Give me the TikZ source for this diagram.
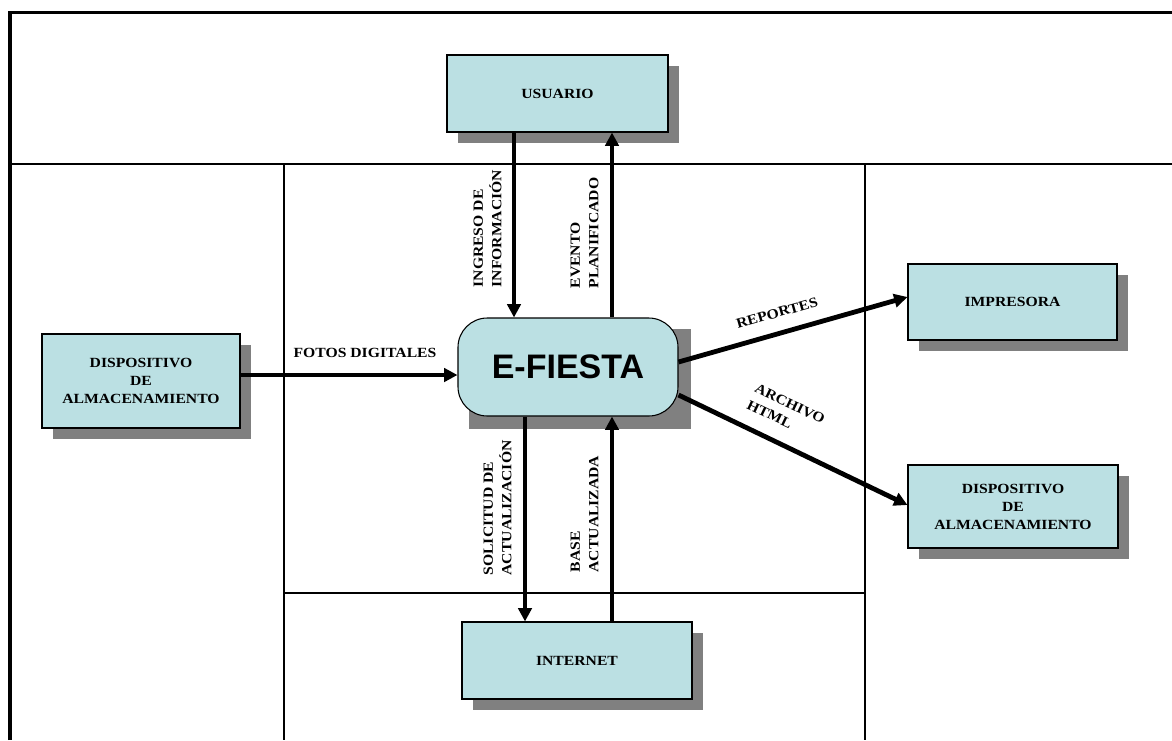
\documentclass[tikz,border=0pt]{standalone}
\usepackage{fontspec}
\usepackage{tikz}
\usetikzlibrary{arrows.meta}
\usetikzlibrary{calc}
\usetikzlibrary{backgrounds}
\usetikzlibrary{shadows}
\usetikzlibrary{positioning}
\newfontfamily\etiqfont[FakeStretch=1.12]{Liberation Serif}
\newfontfamily\titfont{Liberation Sans}
\definecolor{celeste}{RGB}{187,224,227}
\definecolor{sombra}{RGB}{128,128,128}
\tikzset{
  caja/.style={draw, line width=0.8pt, fill=celeste, align=center,
    font=\etiqfont\bfseries\fontsize{10.5}{13.5}\selectfont,
    drop shadow={shadow xshift=8.5pt, shadow yshift=-8.5pt, fill=sombra, opacity=1}}, % Cajas externas
  flujo/.style={line width=3.6pt, -{Triangle[length=10pt,width=10pt]}}, % Flechas de datos
  etiq/.style={font=\etiqfont\bfseries\fontsize{10.5}{13.8}\selectfont, align=left, inner sep=1pt}, % Textos de flujos
  marco/.style={line width=1.2pt}
}

\begin{document}
\begin{tikzpicture}[x=0.75pt, y=-0.75pt, >=latex]
\useasboundingbox (0,0) rectangle (1172,740);

%Marco
\draw[line width=2.3pt] (10,740) -- (10,12.5) -- (1172,12.5);
\draw[marco] (10,164) -- (1172,164);
\draw[marco] (284,164) -- (284,740);
\draw[marco] (865,164) -- (865,740);
\draw[marco] (284,593) -- (865,593);

%Entidades
\node[caja, minimum width=165.75pt, minimum height=57.75pt] (usuario) at (557.5,93.5) {USUARIO};
\node[caja, minimum width=148.5pt, minimum height=70.5pt] (dispIzq) at (141,381) {DISPOSITIVO\\DE\\ALMACENAMIENTO};
\node[caja, minimum width=156.75pt, minimum height=57pt] (impresora) at (1012.5,302) {IMPRESORA};
\node[caja, minimum width=157.5pt, minimum height=62.25pt] (dispDer) at (1013,506.5) {DISPOSITIVO\\DE\\ALMACENAMIENTO};
\node[caja, minimum width=172.5pt, minimum height=57.75pt] (internet) at (577,660.5) {INTERNET};

%Proceso
\node[draw, line width=0.8pt, fill=celeste, rounded corners=22pt,
  minimum width=165pt, minimum height=73.5pt,
  font=\titfont\bfseries\fontsize{25.5}{30}\selectfont] (efiesta) at (568,367) {E-FIESTA};
\begin{scope}[on background layer]
\fill[sombra] ($(efiesta.south west)+(12,12)$) rectangle ($(efiesta.north east)+(12,12)$);
\end{scope}

%Puntos de los flujos
\coordinate (pIngreso) at ($(efiesta.north)+(-54,0)$);
\coordinate (pEvento) at ($(efiesta.north)+(44,0)$);
\coordinate (pSolicitud) at ($(efiesta.south)+(-43,0)$);
\coordinate (pBase) at ($(efiesta.south)+(44,0)$);
\coordinate (pFotos) at ($(dispIzq.east)+(0,-6)$);
\coordinate (pReportes) at ($(efiesta.east)+(0,-5)$);
\coordinate (pArchivo) at ($(efiesta.east)+(0,28)$);

%Flujos
\draw[flujo] (usuario.south -| pIngreso) -- (pIngreso);
\draw[flujo] (pEvento) -- (usuario.south -| pEvento);
\draw[flujo] (pSolicitud) -- (internet.north -| pSolicitud);
\draw[flujo] (internet.north -| pBase) -- (pBase);
\draw[flujo] (pFotos) -- (efiesta.west |- pFotos);
\draw[flujo] (pReportes) -- ($(impresora.west)+(0,-5)$);
\draw[flujo] (pArchivo) -- ($(dispDer.west)+(0,-1.5)$);

%Etiquetas
\node[etiq, rotate=90, anchor=south west] (lIngreso) at (503,289) {INGRESO DE\\INFORMACIÓN};
\node[etiq, rotate=90, anchor=south west] (lEvento) at (600,290) {EVENTO\\PLANIFICADO};
\node[etiq, rotate=90, anchor=south west] (lSolicitud) at (513,577) {SOLICITUD DE\\ACTUALIZACIÓN};
\node[etiq, rotate=90, anchor=south west] (lBase) at (600,574) {BASE\\ACTUALIZADA};
\node[etiq, anchor=south] (lFotos) at (365,359) {FOTOS DIGITALES};
\node[etiq, rotate=15.8] (lReportes) at (777,313) {REPORTES};
\node[etiq, rotate=-25.6] (lArchivo) at (786,412) {ARCHIVO\\HTML};

\end{tikzpicture}
\end{document}
